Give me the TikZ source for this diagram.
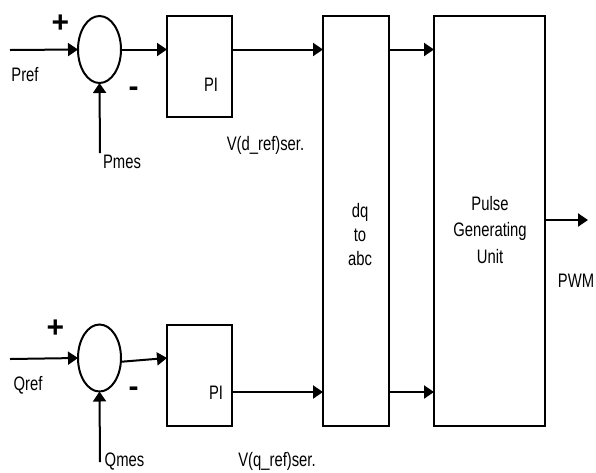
\documentclass[tikz,border=0pt]{standalone}
\usepackage{fontspec}
\setmainfont[FakeStretch=0.76]{Liberation Sans}
\newfontfamily\signfont{Liberation Sans}
\usetikzlibrary{shapes.geometric,arrows.meta}
\begin{document}
\begin{tikzpicture}[x=1pt,y=-1pt,
  every node/.style={inner sep=0pt,outer sep=0pt},
  wire/.style={line width=2pt},
  arr/.style={wire,-{Triangle[length=10pt,width=13pt]}},
  sumnode/.style={draw,ellipse,line width=2pt,minimum width=43pt,minimum height=67pt},
  blk/.style={draw,rectangle,line width=2.2pt},
  lbl/.style={font=\fontsize{19.5}{26.5}\selectfont,anchor=base},
  sign/.style={font=\signfont\bfseries\fontsize{30}{30}\selectfont}]
\useasboundingbox (0,0) rectangle (596,472);
% blocks
\node[sumnode] (s1) at (99.5,49.5) {};
\node[sumnode] (s2) at (99.5,358) {};
\node[blk,minimum width=65pt,minimum height=101pt] (pi1) at (199.5,66.5) {};
\node[blk,minimum width=65pt,minimum height=101pt] (pi2) at (199.5,375.5) {};
\node[blk,minimum width=66pt,minimum height=410pt] (dq) at (356,221) {};
\node[blk,minimum width=111pt,minimum height=410pt] (pg) at (489.5,221) {};
% block texts
\node[lbl] (pi1t) at (211,91) {PI};
\node[lbl] (pi2t) at (216,399) {PI};
\node[lbl,align=center,font=\fontsize{19.5}{24}\selectfont] (dqt) at (360,265) {dq\\to\\abc};
\node[lbl,align=center] (pgt) at (490,263) {Pulse\\Generating\\Unit};
% free ends
\coordinate (pref) at (10,50);
\coordinate (qref) at (10,359);
\coordinate (pmes) at (100,153);
\coordinate (qmes) at (100,462);
\coordinate (pwm) at (588,220);
% connectors
\draw[arr] (pref) -- (s1.west);
\draw[arr] (pmes) -- (s1.south);
\draw[arr] (s1.east) -- (pi1.west |- s1.east);
\draw[arr] (pi1.east |- s1.east) -- (dq.west |- s1.east);
\draw[arr] (dq.east |- s1.east) -- (pg.west |- s1.east);
\draw[arr] (qref) -- (s2.west);
\draw[arr] (qmes) -- (s2.south);
\draw[arr] (s2.-10) -- (pi2.west |- s2.east);
\draw[arr] (pi2.east |- 0,392) -- (dq.west |- 0,392);
\draw[arr] (dq.east |- 0,392) -- (pg.west |- 0,392);
\draw[arr] (pg.east |- pwm) -- (pwm);
% labels
\node[sign] (p1) at (60.5,24) {+};
\node[sign] (p2) at (55.5,329) {+};
\node[sign] (m1) at (133.5,92) {-};
\node[sign] (m2) at (133.5,392) {-};
\node[lbl] (lpref) at (25,81.5) {Pref};
\node[lbl] (lqref) at (28,390) {Qref};
\node[lbl] (lpmes) at (122,168) {Pmes};
\node[lbl] (lqmes) at (124.5,466) {Qmes};
\node[lbl] (lvd) at (265.5,150) {V(d\_ref)ser.};
\node[lbl] (lvq) at (277,466) {V(q\_ref)ser.};
\node[lbl] (lpwm) at (576,287) {PWM};
\end{tikzpicture}
\end{document}
